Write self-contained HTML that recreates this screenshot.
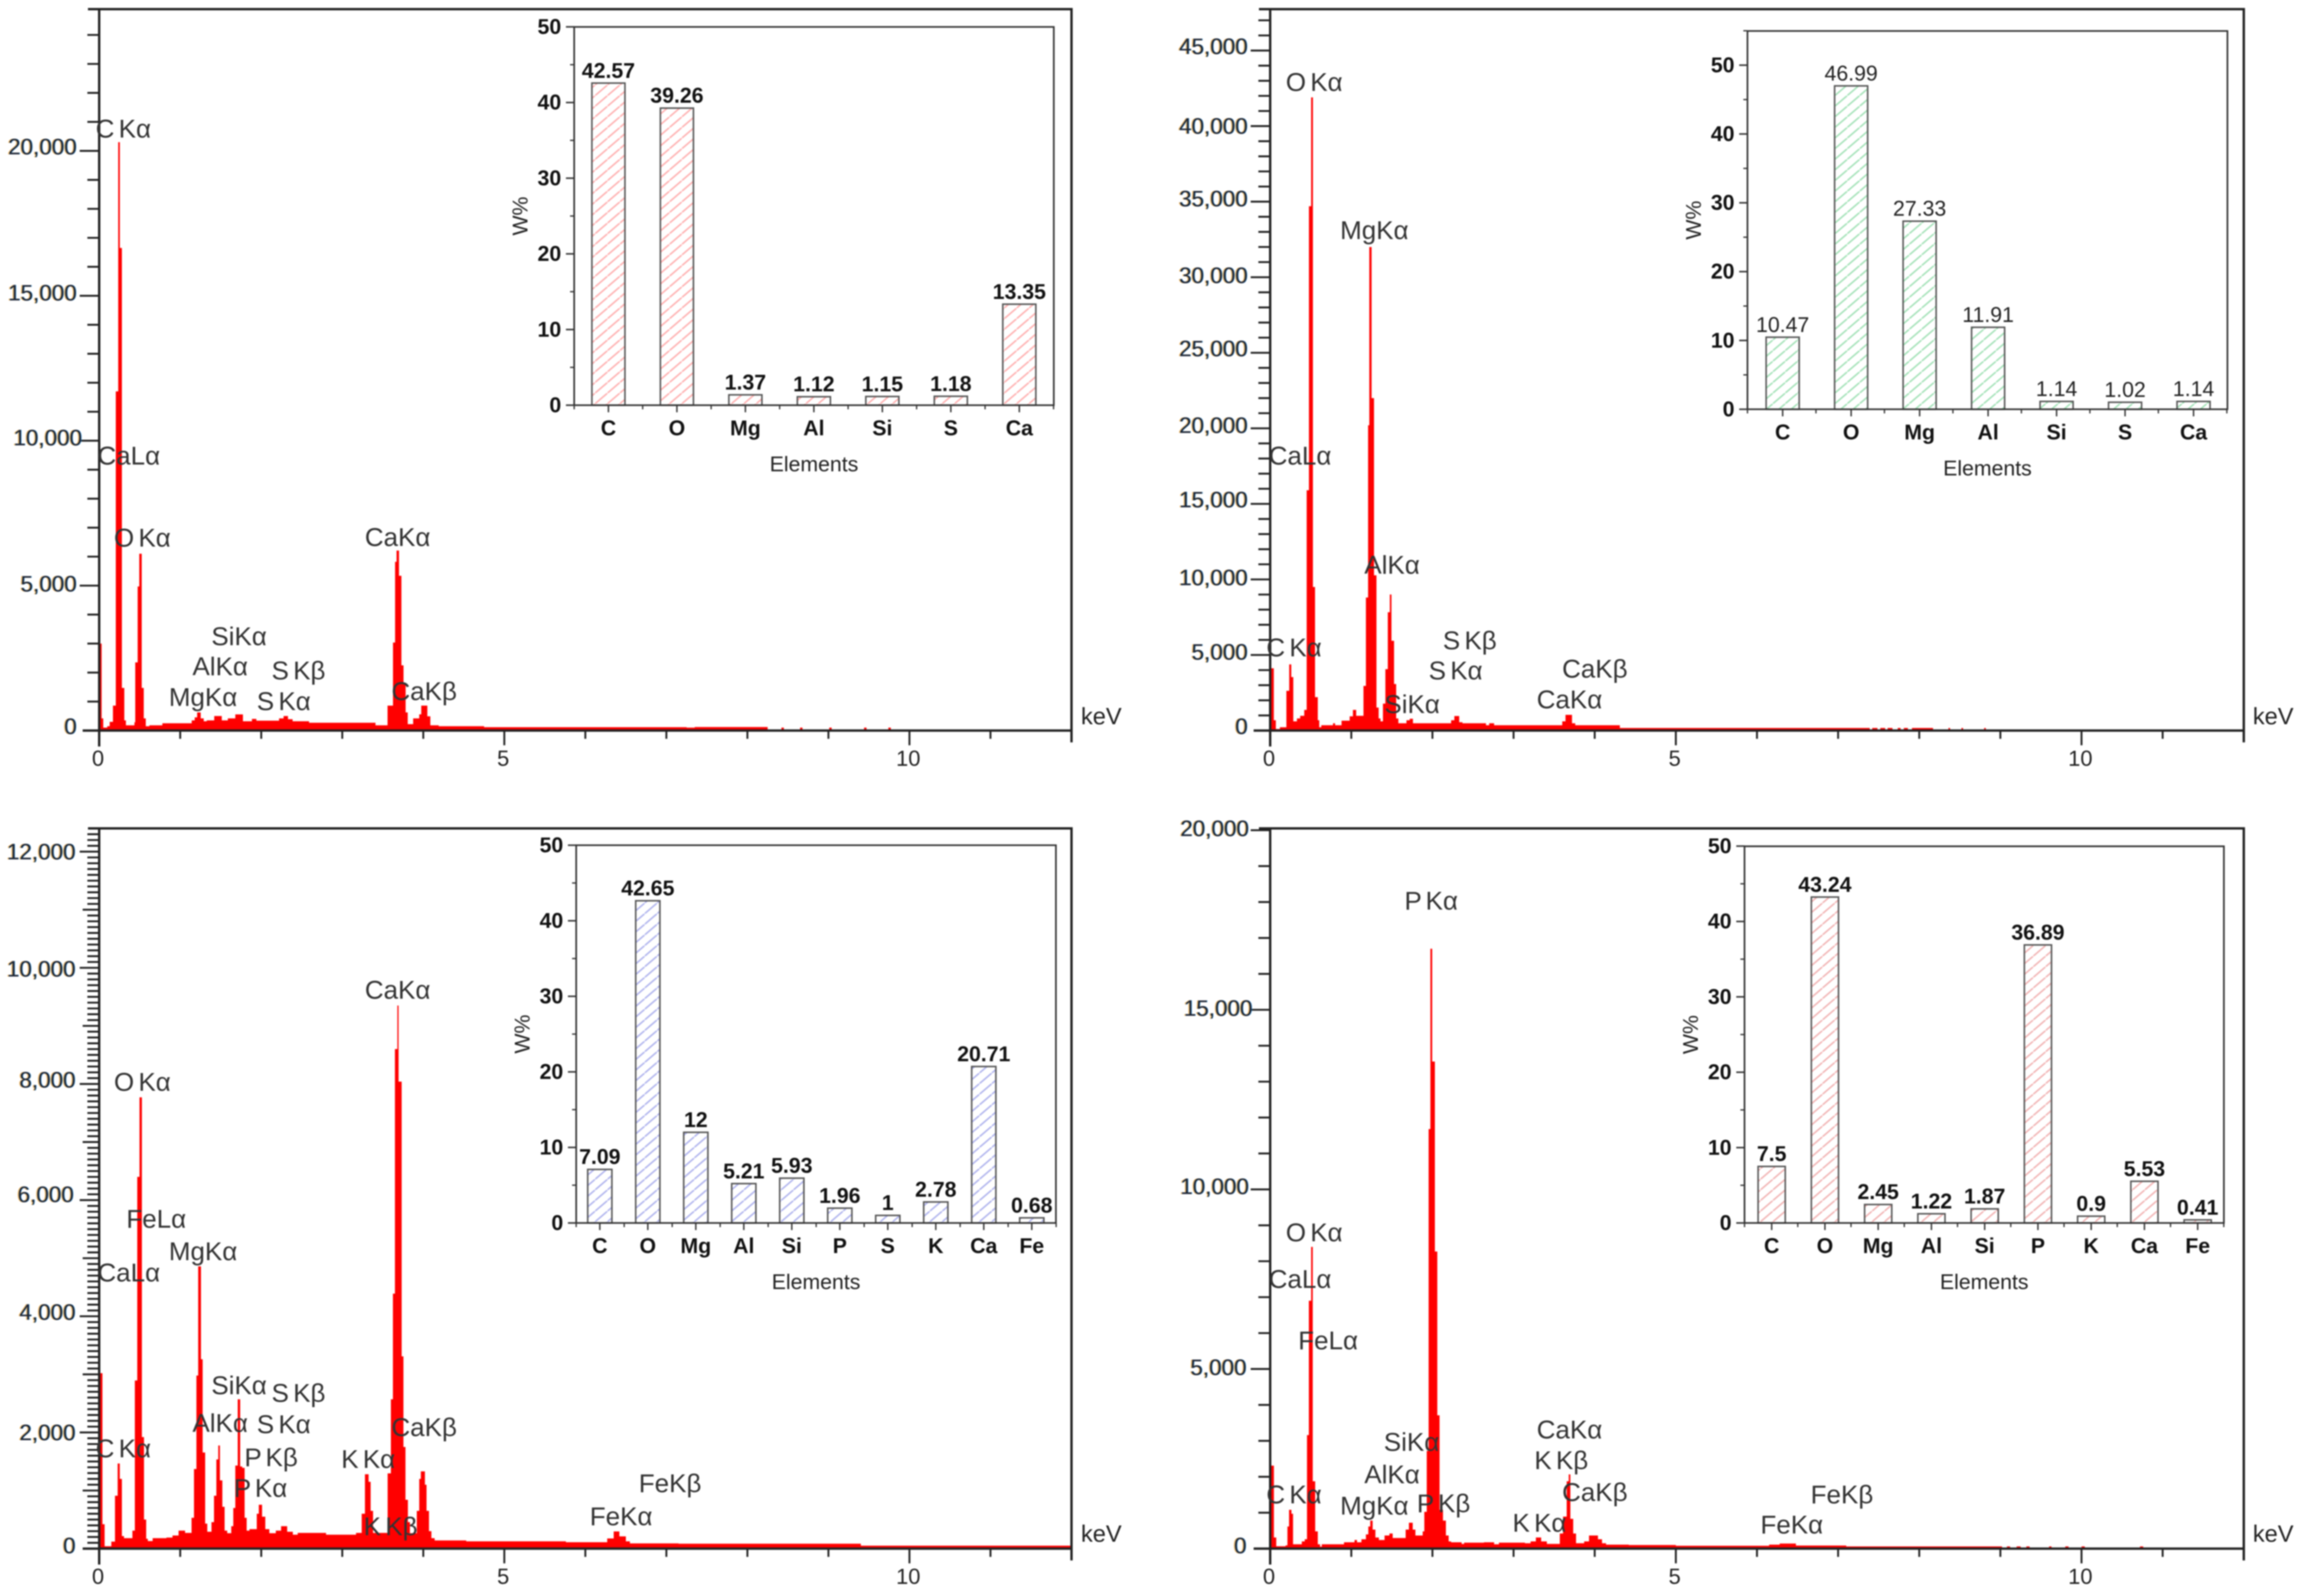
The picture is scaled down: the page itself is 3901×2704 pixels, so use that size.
<!DOCTYPE html>
<html lang="en">
<head>
<meta charset="utf-8">
<title>EDS spectra with elemental composition insets</title>
<style>
html,body{margin:0;padding:0;background:#fff;}
body{width:3901px;height:2704px;overflow:hidden;}
svg{display:block;filter:blur(1px);font-family:"Liberation Sans",Arial,sans-serif;}
.peak{font-size:44px;fill:#333;word-spacing:-5px;}
.kev{font-size:40px;fill:#222;}
.ytick{font-size:38px;fill:#1c2536;}
.xtick{font-size:37px;fill:#222;}
.fringe{filter:drop-shadow(-1.2px 0 rgba(255,150,0,.55)) drop-shadow(1.2px 0 rgba(0,150,255,.55));}
.itick{font-size:36px;font-weight:bold;fill:#111;}
.ival{font-size:36px;font-weight:bold;fill:#111;}
.ival-light{font-size:36px;font-weight:normal;fill:#222;}
.ititle{font-size:36px;fill:#222;}
</style>
</head>
<body>
<svg xmlns="http://www.w3.org/2000/svg" width="3901" height="2704" viewBox="0 0 3901 2704">
<defs>
<pattern id="hatch-1" patternUnits="userSpaceOnUse" width="21" height="18"><rect width="21" height="18" fill="#fff"/><line x1="0" y1="18" x2="21" y2="0" stroke="#ffb0b0" stroke-width="2.6"/></pattern>
<pattern id="hatch-2" patternUnits="userSpaceOnUse" width="21" height="18"><rect width="21" height="18" fill="#fff"/><line x1="0" y1="18" x2="21" y2="0" stroke="#a4e2b8" stroke-width="2.6"/></pattern>
<pattern id="hatch-3" patternUnits="userSpaceOnUse" width="21" height="18"><rect width="21" height="18" fill="#fff"/><line x1="0" y1="18" x2="21" y2="0" stroke="#b0b4ee" stroke-width="2.6"/></pattern>
<pattern id="hatch-4" patternUnits="userSpaceOnUse" width="21" height="18"><rect width="21" height="18" fill="#fff"/><line x1="0" y1="18" x2="21" y2="0" stroke="#f2b4b4" stroke-width="2.6"/></pattern>
</defs>
<rect width="3901" height="2704" fill="#fff"/>

<g id="panel-1">
<g id="marks-1"></g>
<g>
<text class="peak" x="162" y="233">C Kα</text>
<text class="peak" x="165" y="787">CaLα</text>
<text class="peak" x="193" y="926">O Kα</text>
<text class="peak" x="618" y="925">CaKα</text>
<text class="peak" x="358" y="1093">SiKα</text>
<text class="peak" x="326" y="1144">AlKα</text>
<text class="peak" x="460" y="1151">S Kβ</text>
<text class="peak" x="286" y="1196">MgKα</text>
<text class="peak" x="435" y="1203">S Kα</text>
<text class="peak" x="663" y="1186">CaKβ</text>
<text class="kev" x="1831" y="1227">keV</text>
</g>
</g>

<g id="panel-2">
<g id="marks-2"></g>
<g>
<text class="peak" x="2178" y="154">O Kα</text>
<text class="peak" x="2270" y="405">MgKα</text>
<text class="peak" x="2149" y="787">CaLα</text>
<text class="peak" x="2311" y="972">AlKα</text>
<text class="peak" x="2145" y="1112">C Kα</text>
<text class="peak" x="2444" y="1100">S Kβ</text>
<text class="peak" x="2420" y="1151">S Kα</text>
<text class="peak" x="2345" y="1208">SiKα</text>
<text class="peak" x="2646" y="1148">CaKβ</text>
<text class="peak" x="2603" y="1200">CaKα</text>
<text class="kev" x="3816" y="1227">keV</text>
</g>
</g>

<g id="panel-3">
<g id="marks-3"></g>
<g>
<text class="peak" x="618" y="1692">CaKα</text>
<text class="peak" x="193" y="1848">O Kα</text>
<text class="peak" x="214" y="2080">FeLα</text>
<text class="peak" x="286" y="2135">MgKα</text>
<text class="peak" x="165" y="2171">CaLα</text>
<text class="peak" x="358" y="2362">SiKα</text>
<text class="peak" x="460" y="2375">S Kβ</text>
<text class="peak" x="326" y="2426">AlKα</text>
<text class="peak" x="435" y="2428">S Kα</text>
<text class="peak" x="663" y="2433">CaKβ</text>
<text class="peak" x="162" y="2469">C Kα</text>
<text class="peak" x="414" y="2484">P Kβ</text>
<text class="peak" x="578" y="2487">K Kα</text>
<text class="peak" x="396" y="2536">P Kα</text>
<text class="peak" x="616" y="2601">K Kβ</text>
<text class="peak" x="1082" y="2528">FeKβ</text>
<text class="peak" x="999" y="2584">FeKα</text>
<text class="kev" x="1831" y="2612">keV</text>
</g>
</g>

<g id="panel-4">
<g id="marks-4"></g>
<g>
<text class="peak" x="2379" y="1541">P Kα</text>
<text class="peak" x="2178" y="2103">O Kα</text>
<text class="peak" x="2149" y="2182">CaLα</text>
<text class="peak" x="2199" y="2286">FeLα</text>
<text class="peak" x="2344" y="2458">SiKα</text>
<text class="peak" x="2603" y="2437">CaKα</text>
<text class="peak" x="2599" y="2489">K Kβ</text>
<text class="peak" x="2311" y="2513">AlKα</text>
<text class="peak" x="2646" y="2543">CaKβ</text>
<text class="peak" x="2145" y="2547">C Kα</text>
<text class="peak" x="2400" y="2562">P Kβ</text>
<text class="peak" x="2270" y="2566">MgKα</text>
<text class="peak" x="2562" y="2595">K Kα</text>
<text class="peak" x="3067" y="2547">FeKβ</text>
<text class="peak" x="2982" y="2598">FeKα</text>
<text class="kev" x="3816" y="2612">keV</text>
</g>
</g>
</svg>

<script>
// ---------- Spectrum data: bin left edges (keV) and counts per bin ----------
const spectrum1KeV = [0,.03,.05,.1,.13,.17,.205,.235,.255,.28,.31,.33,.435,.445,.475,.495,.525,.55,.575,.62,.78,1.142,1.179,1.209,1.253,1.29,1.328,1.42,1.513,1.588,1.68,1.774,1.885,1.94,2.22,2.276,2.33,2.387,2.59,3.41,3.559,3.626,3.652,3.67,3.70,3.73,3.756,3.782,3.808,3.875,3.95,3.975,4.05,4.087,4.19,4.75,7.25,7.35,8.25,8.42,8.45,8.65,8.68,9.01,9.04,9.44,9.47,9.74,9.77,12];
const spectrum1Counts = [3000,420,100,150,300,860,11700,20300,16650,1470,350,180,285,2350,4970,6100,1470,420,150,180,250,350,455,625,420,320,350,500,350,420,557,320,400,340,420,500,390,320,270,180,860,3035,5820,6210,5340,2250,1600,625,220,420,560,860,490,180,150,115,100,120,0,100,0,100,0,100,0,100,0,100,0];

const spectrum2KeV = [0,.045,.07,.12,.2,.235,.26,.285,.33,.37,.42,.45,.478,.505,.527,.553,.587,.605,.63,.775,.8,.88,.98,1.02,1.06,1.15,1.18,1.207,1.222,1.25,1.28,1.31,1.337,1.36,1.39,1.42,1.45,1.475,1.495,1.527,1.553,1.58,1.68,1.72,1.76,2.23,2.27,2.33,2.37,2.66,2.7,2.76,3.6,3.64,3.72,3.76,4.31,7.23,7.39,7.42,7.485,7.52,7.58,7.61,7.67,7.735,7.77,7.81,7.86,7.91,8.17,8.36,8.38,8.52,8.54,8.80,8.82,12];
const spectrum2Counts = [4120,680,100,220,2630,4380,3540,610,800,975,1365,15900,34700,41900,9500,2210,680,220,350,480,350,650,940,1365,975,2950,8800,20200,32000,22000,10270,1520,800,610,1780,4060,7830,9000,5940,3080,800,480,680,780,480,680,960,550,480,350,480,350,610,1040,480,350,170,170,0,170,0,170,0,170,0,170,0,170,0,170,0,170,0,170,0,170,0];

const spectrum3KeV = [0,.04,.067,.15,.195,.228,.254,.28,.306,.41,.44,.47,.498,.527,.553,.58,.6,.66,.83,.905,.98,1.06,1.14,1.17,1.2,1.222,1.256,1.277,1.308,1.334,1.386,1.417,1.446,1.47,1.49,1.52,1.548,1.58,1.63,1.655,1.68,1.71,1.74,1.765,1.795,1.82,1.855,1.945,1.97,2.01,2.05,2.1,2.18,2.245,2.32,2.39,2.45,2.8,3.17,3.24,3.28,3.325,3.35,3.38,3.56,3.6,3.625,3.65,3.68,3.695,3.733,3.755,3.78,3.81,3.835,3.92,3.95,3.97,4.02,4.04,4.07,4.1,4.14,4.53,5.76,6.27,6.35,6.42,6.5,6.55,7.15,7.85,9.4,12];
const spectrum3Counts = [3020,420,40,120,910,1465,1200,215,180,310,2895,6400,7770,1920,500,170,130,180,190,225,310,270,530,1370,2980,4860,3260,1655,430,290,455,910,1535,1775,1175,720,310,265,385,700,1430,2570,1415,1390,530,310,335,600,755,550,335,265,310,385,290,240,270,240,270,600,1280,1150,650,270,1295,2570,4390,8600,9350,8040,3310,1750,840,455,265,650,1200,1330,1100,650,300,180,140,125,110,175,295,210,125,90,85,85,50];

const spectrum4KeV = [0,.046,.075,.19,.213,.233,.262,.282,.39,.426,.454,.477,.505,.525,.555,.587,.615,.636,.91,1.04,1.07,1.125,1.18,1.21,1.234,1.263,1.297,1.34,1.41,1.47,1.51,1.67,1.71,1.757,1.79,1.88,1.9,1.93,1.953,1.975,1.997,2.03,2.06,2.088,2.13,2.166,2.2,2.23,2.36,2.39,2.635,2.76,2.82,3.14,3.21,3.275,3.34,3.41,3.57,3.61,3.655,3.68,3.70,3.735,3.77,3.87,3.93,3.97,4.04,4.09,4.14,4.42,5,6.15,6.28,6.48,7.1,9.02,9.08,9.12,9.2,9.25,9.32,9.36,9.6,9.63,9.8,9.84,10.0,10.04,10.72,10.76,12];
const spectrum4Counts = [2310,310,65,90,615,1080,970,120,200,260,3160,6900,8400,1875,480,120,55,120,175,240,175,260,395,615,780,530,310,240,365,420,295,530,720,530,365,480,1025,2720,11680,16700,13560,8270,3710,1080,780,365,200,175,130,165,175,120,165,150,200,310,200,130,420,890,1875,2065,830,420,150,200,365,365,260,150,110,100,80,110,140,85,60,0,60,0,60,0,60,0,60,0,60,0,60,0,60,0];

// ---------- Inset bar chart data ----------
const inset1Categories = ["C","O","Mg","Al","Si","S","Ca"];
const inset1Values = [42.57,39.26,1.37,1.12,1.15,1.18,13.35];
const inset1Printed = ["42.57","39.26","1.37","1.12","1.15","1.18","13.35"];

const inset2Categories = ["C","O","Mg","Al","Si","S","Ca"];
const inset2Values = [10.47,46.99,27.33,11.91,1.14,1.02,1.14];
const inset2Printed = ["10.47","46.99","27.33","11.91","1.14","1.02","1.14"];

const inset3Categories = ["C","O","Mg","Al","Si","P","S","K","Ca","Fe"];
const inset3Values = [7.09,42.65,12,5.21,5.93,1.96,1,2.78,20.71,0.68];
const inset3Printed = ["7.09","42.65","12","5.21","5.93","1.96","1","2.78","20.71","0.68"];

const inset4Categories = ["C","O","Mg","Al","Si","P","K","Ca","Fe"];
const inset4Values = [7.5,43.24,2.45,1.22,1.87,36.89,0.9,5.53,0.41];
const inset4Printed = ["7.5","43.24","2.45","1.22","1.87","36.89","0.9","5.53","0.41"];

// ---------- Tick values ----------
const xMajorTicks = [0,5,10];
const xMinorTicks = [1,2,3,4,6,7,8,9,11,12];
const yTicks1 = [0,5000,10000,15000,20000];
const yTicks2 = [0,5000,10000,15000,20000,25000,30000,35000,40000,45000];
const yTicks3 = [0,2000,4000,6000,8000,10000,12000];
const yTicks4 = [0,5000,10000,15000,20000];
const insetTicks1 = [0,10,20,30,40,50];

// ---------- Layout (separate from data) ----------
const labelShift1 = {0:[0,-2],5000:[0,2],10000:[9,0],15000:[0,0],20000:[0,-2]};
const labelShift2 = {0:[0,-2],5000:[0,0],10000:[0,2],15000:[0,-2],20000:[0,0],25000:[0,-2],30000:[0,2],35000:[0,0],40000:[0,5],45000:[0,-2]};
const labelShift3 = {0:[-2,0],2000:[-2,5],4000:[-2,-2],6000:[-5,-5],8000:[-2,-2],10000:[-2,7],12000:[-2,5]};
const labelShift4 = {0:[-2,0],5000:[-2,2],10000:[2,0],15000:[8,2],20000:[2,2]};

const SVGNS = "http://www.w3.org/2000/svg";
function mk(tag, attrs, parent, text){
  const n = document.createElementNS(SVGNS, tag);
  for (const k in attrs) n.setAttribute(k, attrs[k]);
  if (text !== undefined) n.textContent = text;
  parent.appendChild(n);
  return n;
}
function fmt(v){ return String(v).replace(/\B(?=(\d{3})+$)/g, ","); }

function drawSpectrum(o){
  const g = document.getElementById(o.id);
  const x = e => o.left + (e / 12) * (o.right - o.left);
  const y = c => o.zero - (c / o.yMax) * (o.zero - o.top);

  let d = "M" + x(o.keV[0]) + " " + y(0);
  for (let i = 0; i < o.counts.length; i++){
    const e0 = o.keV[i];
    const e1 = i + 1 < o.keV.length ? o.keV[i + 1] : 12;
    d += " L" + x(e0).toFixed(2) + " " + y(o.counts[i]).toFixed(2) + " L" + x(e1).toFixed(2) + " " + y(o.counts[i]).toFixed(2);
  }
  d += " L" + x(12) + " " + y(0) + " Z";
  const area = mk("path", {d: d, fill: "#ff0000", stroke: "none"}, g);
  
  

  const axes = mk("g", {stroke: "#222", "stroke-width": 3.2, fill: "none"}, g);
  
  
  const frame = mk("path", {d: "M" + (o.left - 19) + " " + o.top + " H" + o.right + " V" + (o.zero + 20) + " M" + o.left + " " + o.top + " V" + (o.zero + 27) + " M" + (o.left - 28) + " " + o.zero + " H" + o.right, "stroke-width": 4}, axes);
  
  

  xMajorTicks.forEach(v => {
    const t = mk("line", {x1: x(v), x2: x(v), y1: o.zero, y2: o.zero + 25}, axes);
    
    
  });
  xMinorTicks.forEach(v => {
    const t = mk("line", {x1: x(v), x2: x(v), y1: o.zero, y2: o.zero + 14}, axes);
    
    
  });
  for (let v = o.minorStep; y(v) > o.top + 2; v += o.minorStep){
    const len = v % o.labelStep === 0 ? 33 : (o.midStep && v % o.midStep === 0 ? 28 : 20);
    const t = mk("line", {x1: o.left - len, x2: o.left, y1: y(v), y2: y(v)}, axes);
    
    
  }

  const yLabels = mk("g", {class: "fringe"}, g);
  
  
  o.yTicks.forEach(v => {
    const s = o.shift[v] || [0, 0];
    const t = mk("text", {class: "ytick", x: o.left - 38 + s[0], y: y(v) + 8 + s[1], "text-anchor": "end"}, yLabels, fmt(v));
    
    
  });
  xMajorTicks.forEach(v => {
    const t = mk("text", {class: "xtick", x: x(v) - 2, y: o.zero + 60, "text-anchor": "middle"}, g, String(v));
    
    
  });
}

function drawInset(o){
  const root = document.getElementById(o.id);
  const g = mk("g", {}, root);
  
  
  const n = o.categories.length;
  const cw = o.catWidth;
  const cx = i => o.first + i * cw;
  const y = v => o.bottom - v * o.perUnit;

  o.values.forEach((v, i) => {
    const b = mk("rect", {x: cx(i) - o.barW / 2, y: y(v), width: o.barW, height: o.bottom - y(v), fill: "url(#" + o.hatch + ")", stroke: "#555", "stroke-width": 2.6}, g);
    
    
    const t = mk("text", {class: o.light ? "ival-light" : "ival", x: cx(i), y: y(v) - 9, "text-anchor": "middle"}, g, o.printed[i]);
    
    
    const c = mk("text", {class: "itick", x: cx(i), y: o.bottom + 51, "text-anchor": "middle"}, g, o.categories[i]);
    
    
    const tk = mk("line", {x1: cx(i), x2: cx(i), y1: o.bottom, y2: o.bottom + 12, stroke: "#333", "stroke-width": 2.4}, g);
    
    
  });
  for (let i = 0; i <= n; i++){
    const tk = mk("line", {x1: o.left + i * cw, x2: o.left + i * cw, y1: o.bottom, y2: o.bottom + 7, stroke: "#333", "stroke-width": 2.2}, g);
    
    
  }
  const frame = mk("path", {d: "M" + o.left + " " + o.top + " H" + o.right + " V" + o.bottom + " H" + o.left + " Z", fill: "none", stroke: "#333", "stroke-width": 2.8}, g);
  
  

  insetTicks1.forEach(v => {
    const tk = mk("line", {x1: o.left - 14, x2: o.left, y1: y(v), y2: y(v), stroke: "#333", "stroke-width": 2.6}, g);
    
    
    const t = mk("text", {class: "itick", x: o.left - 22, y: y(v) + 12, "text-anchor": "end"}, g, String(v));
    
    
    if (y(v + 5) > o.top - 1){
      const m = mk("line", {x1: o.left - 7, x2: o.left, y1: y(v + 5), y2: y(v + 5), stroke: "#333", "stroke-width": 2.2}, g);
      
      
    }
  });

  const e = mk("text", {class: "ititle", x: (o.left + o.right) / 2, y: o.bottom + 112, "text-anchor": "middle"}, g, "Elements");
  
  
  const wy = (o.top + o.bottom) / 2;
  const wx = o.left - 79;
  const w = mk("text", {class: "ititle", x: wx, y: wy, "text-anchor": "middle", transform: "rotate(-90 " + wx + " " + wy + ")"}, g, "W%");
  
  
}

drawSpectrum({id: "marks-1", keV: spectrum1KeV, counts: spectrum1Counts, left: 168, right: 1815, top: 15.5, zero: 1237.7, yMax: 24890, yTicks: yTicks1, minorStep: 1000, labelStep: 5000, shift: labelShift1});
drawSpectrum({id: "marks-2", keV: spectrum2KeV, counts: spectrum2Counts, left: 2151.5, right: 3800.7, top: 15.5, zero: 1237.7, yMax: 47740, yTicks: yTicks2, minorStep: 1000, labelStep: 5000, shift: labelShift2});
drawSpectrum({id: "marks-3", keV: spectrum3KeV, counts: spectrum3Counts, left: 168, right: 1815, top: 1403.5, zero: 2623.7, yMax: 12400, yTicks: yTicks3, minorStep: 100, midStep: 1000, labelStep: 2000, shift: labelShift3});
drawSpectrum({id: "marks-4", keV: spectrum4KeV, counts: spectrum4Counts, left: 2151.5, right: 3800.7, top: 1403.5, zero: 2623.7, yMax: 20050, yTicks: yTicks4, minorStep: 1000, labelStep: 5000, shift: labelShift4});

drawInset({id: "marks-1", categories: inset1Categories, values: inset1Values, printed: inset1Printed, left: 972.6, right: 1785, top: 45.6, bottom: 686.5, perUnit: 12.82, catWidth: 116, first: 1030.6, barW: 56, hatch: "hatch-1"});
drawInset({id: "marks-2", categories: inset2Categories, values: inset2Values, printed: inset2Printed, left: 2960, right: 3773, top: 52.5, bottom: 693.4, perUnit: 11.66, catWidth: 116, first: 3019.6, barW: 56, hatch: "hatch-2", light: true});
drawInset({id: "marks-3", categories: inset3Categories, values: inset3Values, printed: inset3Printed, left: 976, right: 1788.6, top: 1432, bottom: 2072, perUnit: 12.8, catWidth: 81.3, first: 1016, barW: 41, hatch: "hatch-3"});
drawInset({id: "marks-4", categories: inset4Categories, values: inset4Values, printed: inset4Printed, left: 2955, right: 3767, top: 1433.8, bottom: 2072, perUnit: 12.77, catWidth: 90.2, first: 3001, barW: 46, hatch: "hatch-4"});
</script>
</body>
</html>
